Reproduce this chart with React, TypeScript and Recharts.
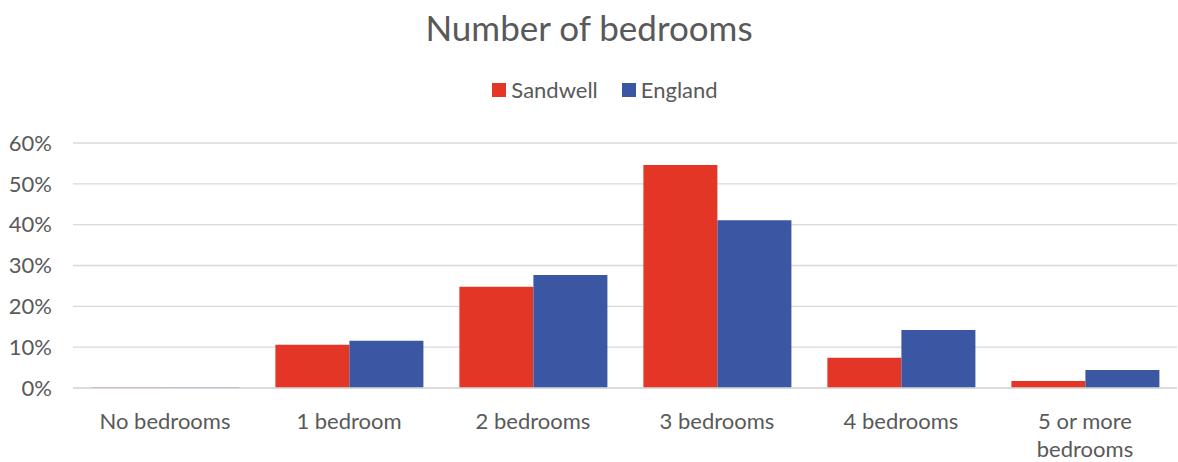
import React from 'react';
import { BarChart, Bar, XAxis, YAxis, CartesianGrid } from 'recharts';

const categories = ['No bedrooms', '1 bedroom', '2 bedrooms', '3 bedrooms', '4 bedrooms', '5 or more bedrooms'];
const sandwell = [0.2, 10.6, 24.8, 54.6, 7.4, 1.7];
const england = [0.2, 11.6, 27.7, 41.1, 14.2, 4.4];
const yTicks = [0, 10, 20, 30, 40, 50, 60];

const RED = '#E33626';
const BLUE = '#3B57A4';
const TEXT = '#595959';
const FONT = 'Lato, "Open Sans", sans-serif';

const data = categories.map((c, i) => ({ name: c, Sandwell: sandwell[i], England: england[i] }));

const wrapLabel = (s: string, maxChars: number): string[] => {
  if (s.length <= maxChars) return [s];
  const words = s.split(' ');
  let best = 1;
  let bestDiff = Infinity;
  for (let i = 1; i < words.length; i++) {
    const a = words.slice(0, i).join(' ').length;
    const b = words.slice(i).join(' ').length;
    const d = Math.max(a, b);
    if (d < bestDiff) { bestDiff = d; best = i; }
  }
  return [words.slice(0, best).join(' '), words.slice(best).join(' ')];
};

const XTick = (props: any) => {
  const { x, y, payload } = props;
  const lines = wrapLabel(String(payload.value), 14);
  return (
    <text x={x} y={y + 17} textAnchor="middle" fill={TEXT} fontSize={22} fontFamily={FONT}>
      {lines.map((l, i) => (
        <tspan key={i} x={x} dy={i === 0 ? '0.71em' : 28}>{l}</tspan>
      ))}
    </text>
  );
};

export default function App() {
  return (
    <div style={{ position: 'absolute', left: 0, top: 0, width: 1178, height: 462, background: '#fff', fontFamily: FONT }}>
      <div style={{ position: 'absolute', left: 0, top: 6, width: 1178, textAlign: 'center', fontSize: 35, color: TEXT, lineHeight: '42px' }}>
        Number of bedrooms
      </div>
      <div style={{ position: 'absolute', left: 16, top: 76, width: 1178, display: 'flex', justifyContent: 'center', fontSize: 22, color: TEXT, lineHeight: '28px' }}>
        <span style={{ display: 'flex', alignItems: 'center', marginRight: 24 }}>
          <span style={{ display: 'inline-block', width: 14, height: 14, background: RED, marginRight: 5 }} />
          Sandwell
        </span>
        <span style={{ display: 'flex', alignItems: 'center' }}>
          <span style={{ display: 'inline-block', width: 14, height: 14, background: BLUE, marginRight: 5 }} />
          England
        </span>
      </div>
      <div style={{ position: 'absolute', left: 0, top: 0 }}>
        <BarChart
          width={1178}
          height={462}
          data={data}
          margin={{ top: 143, right: 1, bottom: 0, left: 0 }}
          barCategoryGap="10%"
          barGap={0}
        >
          <CartesianGrid vertical={false} stroke="#D9D9D9" strokeWidth={1.3} />
          <XAxis
            dataKey="name"
            axisLine={{ stroke: '#D9D9D9', strokeWidth: 1.3 }}
            tickLine={false}
            height={74}
            interval={0}
            tick={<XTick />}
          />
          <YAxis
            domain={[0, 60]}
            ticks={yTicks}
            width={73}
            axisLine={false}
            tickLine={false}
            tickSize={0}
            tickMargin={21}
            tickFormatter={(v: number) => `${v}%`}
            tick={{ fill: TEXT, fontSize: 22, fontFamily: FONT }}
          />
          <Bar dataKey="Sandwell" fill={RED} isAnimationActive={false} />
          <Bar dataKey="England" fill={BLUE} isAnimationActive={false} />
        </BarChart>
      </div>
    </div>
  );
}
